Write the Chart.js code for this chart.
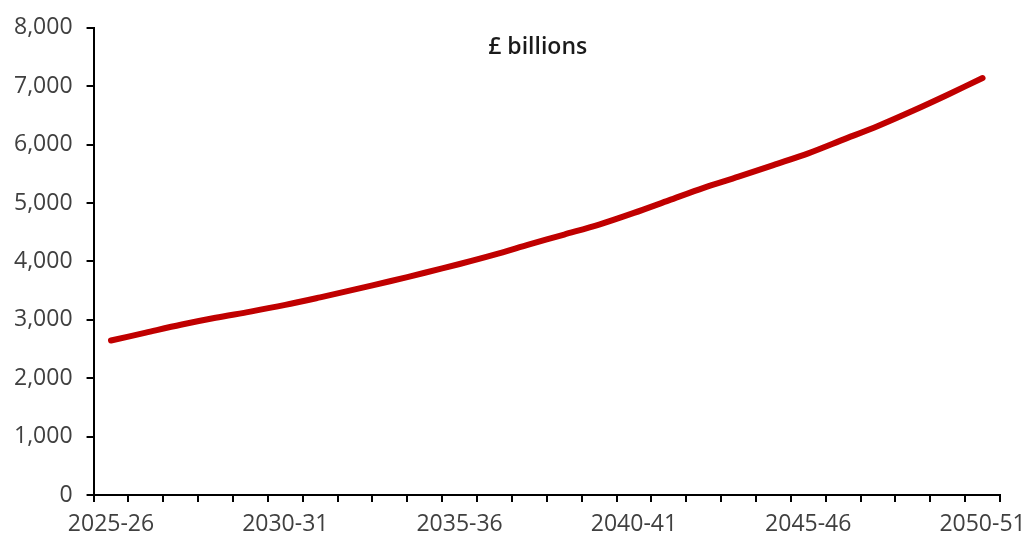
<!DOCTYPE html>
<html>
<head>
<meta charset="utf-8">
<title>£ billions</title>
<script src="https://cdn.jsdelivr.net/npm/chart.js@4/dist/chart.umd.min.js"></script>
<style>
    html, body { margin: 0; padding: 0; background: #ffffff; }
    #wrap { width: 1025px; height: 535px; position: relative; }
</style>
</head>
<body>
<div id="wrap"><canvas id="debtChart"></canvas></div>
<script>
// Financial years shown on the x axis
const years = [
    '2025-26', '2026-27', '2027-28', '2028-29', '2029-30',
    '2030-31', '2031-32', '2032-33', '2033-34', '2034-35',
    '2035-36', '2036-37', '2037-38', '2038-39', '2039-40',
    '2040-41', '2041-42', '2042-43', '2043-44', '2044-45',
    '2045-46', '2046-47', '2047-48', '2048-49', '2049-50',
    '2050-51'
];

// Projected values, £ billions
const values = [
    2645, 2780, 2915, 3035, 3140,
    3255, 3385, 3520, 3660, 3805,
    3955, 4115, 4290, 4460, 4630,
    4830, 5045, 5260, 5450, 5650,
    5850, 6085, 6320, 6580, 6855,
    7140
];

// Only every fifth year gets a label
const labelledYears = ['2025-26', '2030-31', '2035-36', '2040-41', '2045-46', '2050-51'];

const unitsLabel = '£ billions';

// Draws the units caption inside the plot area
const unitsPlugin = {
    id: 'unitsCaption',
    afterDraw(chart) {
        const area = chart.chartArea;
        const ctx = chart.ctx;
        ctx.save();
        ctx.font = '600 23px "Open Sans", sans-serif';
        ctx.fillStyle = '#1a1a1a';
        ctx.textAlign = 'center';
        ctx.textBaseline = 'middle';
        ctx.fillText(unitsLabel, area.left + area.width * 0.49, area.top + 20);
        ctx.restore();
    }
};

const tickFont = { family: '"Open Sans", sans-serif', size: 23 };

new Chart(document.getElementById('debtChart').getContext('2d'), {
    type: 'line',
    data: {
        labels: years,
        datasets: [{
            label: unitsLabel,
            data: values,
            borderColor: '#c00000',
            borderWidth: 6,
            borderCapStyle: 'round',
            borderJoinStyle: 'round',
            tension: 0.3,
            fill: false,
            pointRadius: 0,
            pointHoverRadius: 0
        }]
    },
    options: {
        responsive: true,
        maintainAspectRatio: false,
        animation: false,
        layout: {
            padding: { top: 14, right: 25, bottom: 0, left: 0 }
        },
        plugins: {
            legend: { display: false },
            tooltip: { enabled: false }
        },
        scales: {
            x: {
                offset: true,
                grid: {
                    offset: true,
                    drawOnChartArea: false,
                    drawTicks: true,
                    tickLength: 7,
                    color: '#000000',
                    lineWidth: 2
                },
                border: { color: '#000000', width: 2 },
                ticks: {
                    autoSkip: false,
                    maxRotation: 0,
                    padding: 9,
                    color: '#404040',
                    font: tickFont,
                    callback: function(value) {
                        const label = this.getLabelForValue(value);
                        return labelledYears.includes(label) ? label : '';
                    }
                },
                // fixed axis band so the labels sit close to the bottom edge
                afterFit: function(scale) {
                    scale.height = 40;
                    scale.paddingRight = 0;
                }
            },
            y: {
                min: 0,
                max: 8000,
                grid: {
                    drawOnChartArea: false,
                    drawTicks: true,
                    tickLength: 7,
                    color: '#000000',
                    lineWidth: 2
                },
                border: { color: '#000000', width: 2 },
                ticks: {
                    stepSize: 1000,
                    padding: 14,
                    color: '#404040',
                    font: tickFont,
                    callback: function(value) {
                        return value.toLocaleString('en-GB');
                    }
                }
            }
        }
    },
    plugins: [unitsPlugin]
});
</script>
</body>
</html>
